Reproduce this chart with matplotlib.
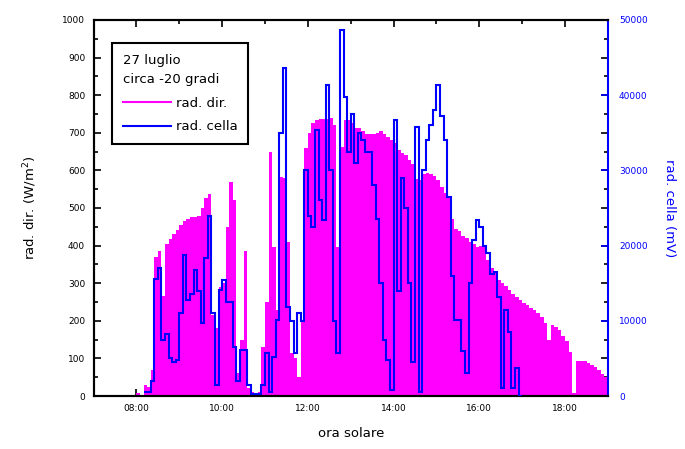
import numpy as np
import matplotlib
matplotlib.use("Agg")
import matplotlib.pyplot as plt
from matplotlib.lines import Line2D

# ---------------- data (5-minute samples from 07:00) ----------------
start_hour = 7.0
step_min = 5

rad_dir = [
    0, 0, 0, 0, 0, 0, 0, 0, 0, 0, 0, 0,                 # 07:00-07:55
    8, 0, 30, 25, 70, 370, 385, 265, 405, 418, 430, 442,  # 08:00-08:55
    455, 465, 472, 475, 476, 480, 500, 527, 537, 215, 180, 290,  # 09:00-09:55
    300, 450, 570, 520, 60, 150, 385, 20, 10, 8, 10, 130,  # 10:00-10:55
    250, 650, 396, 230, 582, 580, 410, 114, 100, 50, 200, 660,  # 11:00-11:55
    700, 726, 734, 738, 738, 738, 740, 720, 396, 663, 734, 734,  # 12:00-12:55
    726, 713, 713, 705, 697, 697, 697, 700, 705, 697, 690, 680,  # 13:00-13:55
    673, 655, 646, 640, 627, 618, 578, 575, 590, 593, 590, 584,  # 14:00-14:55
    575, 555, 540, 530, 470, 445, 440, 425, 420, 410, 405, 395,  # 15:00-15:55
    400, 395, 362, 340, 330, 308, 300, 292, 282, 272, 263, 255,  # 16:00-16:55
    248, 242, 235, 228, 220, 210, 195, 150, 190, 183, 175, 160,  # 17:00-17:55
    145, 118, 8, 92, 94, 92, 88, 82, 76, 68, 58, 50,  # 18:00-18:55
]

# rad. cella (right axis units), 5-minute samples from 08:10 to 16:55
cella_start_index = 14
rad_cella = [
    500, 500, 2000, 15500, 17000, 7500, 8250, 5000, 4500, 4750,
    11000, 18750, 12750, 13500, 16750, 14000, 9700, 18350, 24000, 11000,
    1500, 14100, 15400, 12500, 12500, 6500, 2000, 6100, 6100, 1500,
    250, 250, 250, 1500, 5700, 500, 5200, 10100, 35000, 43600,
    11850, 10000, 5700, 11000, 10000, 30000, 24000, 22500, 35350, 26000,
    23400, 41350, 30000, 10000, 5700, 48650, 39750, 32500, 37500, 31000,
    35000, 34000, 32500, 32500, 28000, 23500, 15000, 7500, 4750, 800,
    36700, 14000, 29000, 25000, 15000, 4500, 35750, 500, 30000, 34000,
    36000, 38000, 41350, 37250, 34000, 26500, 16000, 10100, 10100, 6000,
    3000, 15000, 20750, 23400, 22500, 20000, 19000, 16250, 16500, 13150,
    1000, 11500, 8500, 1000, 3750, 0,
]

x_ticks = [8, 10, 12, 14, 16, 18]
x_ticklabels = ["08:00", "10:00", "12:00", "14:00", "16:00", "18:00"]

# ---------------- figure ----------------
plt.rcParams["font.family"] = ["DejaVu Sans"]
fig = plt.figure(figsize=(6.85, 4.49), dpi=100)
ax = fig.add_axes([0.1365, 0.118, 0.751, 0.8375])
ax2 = ax.twinx()

n = len(rad_dir)
edges = start_hour + np.arange(n + 1) * step_min / 60.0
ax.stairs(rad_dir, edges, fill=True, color="#ff00ff", linewidth=0, zorder=2)

m = len(rad_cella)
c_edges = edges[cella_start_index:cella_start_index + m + 1]
ax2.stairs(rad_cella, c_edges, baseline=None, color="#0000ff", linewidth=1.5, zorder=3)

ax.set_xlim(7.0, 19.0)
ax.set_ylim(0, 1000)
ax2.set_ylim(0, 50000)

ax.set_xticks(x_ticks)
ax.set_xticklabels(x_ticklabels)
ax.set_xticks(np.arange(9, 19, 2), minor=True)
ax.set_yticks(np.arange(0, 1001, 100))
ax.set_yticks(np.arange(50, 1000, 100), minor=True)
ax2.set_yticks(np.arange(0, 50001, 10000))

ax.tick_params(axis="both", which="major", direction="in", length=5, width=1.2,
               labelsize=6.5, top=True, right=True, pad=6)
ax.tick_params(axis="both", which="minor", direction="in", length=3, width=1.2,
               top=True, right=True)
ax2.tick_params(axis="y", which="major", direction="in", length=5, width=1.2,
                labelsize=6.5, colors="#0000ff", pad=8)

for s in ["left", "bottom", "top"]:
    ax.spines[s].set_linewidth(1.5)
    ax2.spines[s].set_linewidth(1.5)
ax2.spines["right"].set_color("#0000ff")
ax2.spines["right"].set_linewidth(1.5)
ax.spines["right"].set_visible(False)

ax.set_xlabel("ora solare", fontsize=9.5, labelpad=10)
ax.set_ylabel("rad. dir. (W/m$^2$)", fontsize=9.5, labelpad=17)
ax2.set_ylabel("rad. cella (mV)", fontsize=9.5, color="#0000ff", rotation=270, labelpad=20)

handles = [Line2D([], [], color="#ff00ff", lw=1.5),
           Line2D([], [], color="#0000ff", lw=1.5)]
leg = ax2.legend(handles, ["rad. dir.", "rad. cella"],
                 title="27 luglio\ncirca -20 gradi", alignment="left",
                 loc="upper left", bbox_to_anchor=(0.024, 0.955),
                 fontsize=9.5, title_fontsize=9.5, frameon=True, fancybox=False,
                 edgecolor="black", handlelength=3.6, handletextpad=0.4,
                 borderpad=0.8, labelspacing=0.8, framealpha=1)
leg.get_title().set_linespacing(1.6)
leg.get_frame().set_linewidth(1.5)

fig.savefig("out.png", dpi=100)
